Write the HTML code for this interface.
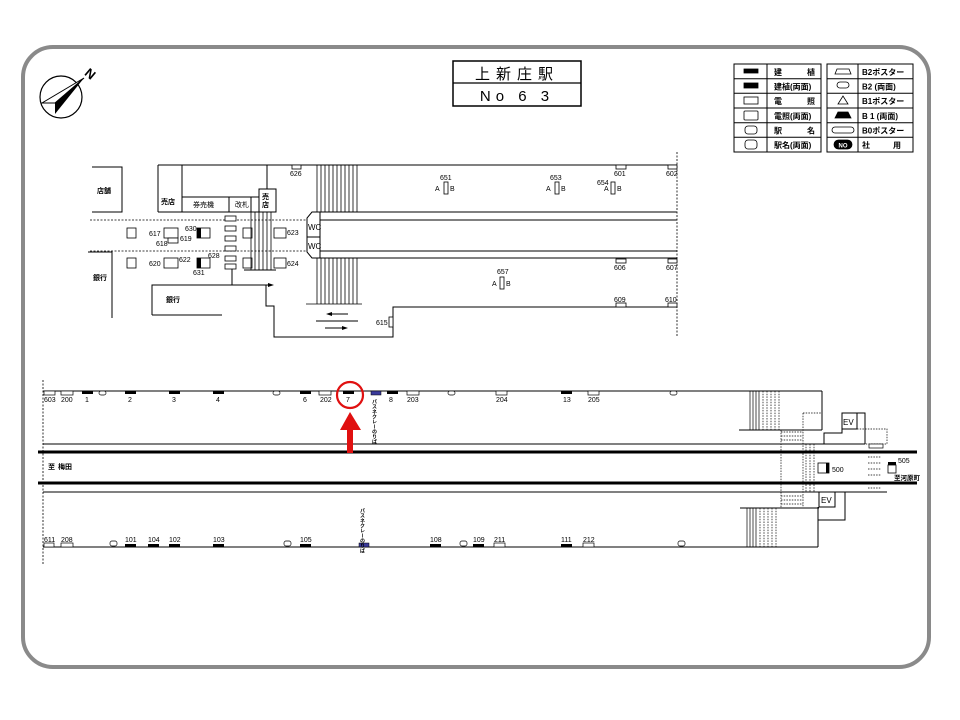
<!DOCTYPE html>
<html><head><meta charset="utf-8"><style>
html,body{margin:0;padding:0;background:#fff;}
svg{display:block;}
text{font-family:"Liberation Sans","Noto Sans CJK JP",sans-serif;fill:#000;}
</style></head><body>
<svg width="960" height="720" viewBox="0 0 960 720" xmlns="http://www.w3.org/2000/svg">
<rect x="0" y="0" width="960" height="720" fill="#fff"/>
<rect x="23" y="47" width="906" height="620" rx="30" ry="30" fill="none" stroke="#8a8a8a" stroke-width="4"/>

<!-- compass -->
<circle cx="61" cy="97" r="21" fill="none" stroke="#000" stroke-width="1.2"/>
<polygon points="84,78 42,103 55,103" fill="#fff" stroke="#000" stroke-width="1"/>
<polygon points="84,78 55,103 55,114" fill="#000"/>
<text x="86" y="78" font-size="13" font-weight="bold" transform="rotate(40 90 73)">N</text>

<!-- title -->
<rect x="453" y="61" width="128" height="45" fill="#fff" stroke="#000" stroke-width="1.5"/>
<line x1="453" y1="83" x2="581" y2="83" stroke="#000" stroke-width="1.2"/>
<text x="517" y="79" font-size="15" text-anchor="middle" letter-spacing="6">上新庄駅</text>
<text x="517" y="101" font-size="15" text-anchor="middle" letter-spacing="5">No 6 3</text>

<!-- legend -->
<g stroke="#000" fill="none" stroke-width="1">
<rect x="734" y="64" width="87" height="88"/>
<line x1="767" y1="64" x2="767" y2="152"/>
<rect x="827" y="64" width="86" height="88"/>
<line x1="858" y1="64" x2="858" y2="152"/>
<line x1="734" y1="78.7" x2="821" y2="78.7"/><line x1="734" y1="93.3" x2="821" y2="93.3"/><line x1="734" y1="108" x2="821" y2="108"/><line x1="734" y1="122.7" x2="821" y2="122.7"/><line x1="734" y1="137.3" x2="821" y2="137.3"/>
<line x1="827" y1="78.7" x2="913" y2="78.7"/><line x1="827" y1="93.3" x2="913" y2="93.3"/><line x1="827" y1="108" x2="913" y2="108"/><line x1="827" y1="122.7" x2="913" y2="122.7"/><line x1="827" y1="137.3" x2="913" y2="137.3"/>
</g>
<g stroke="#000" stroke-width="0.8">
<rect x="744" y="69" width="14" height="4" fill="#000"/>
<rect x="744" y="83" width="14" height="5" fill="#000"/>
<rect x="744" y="97" width="14" height="7" fill="#fff"/>
<rect x="744" y="111" width="14" height="9" fill="#fff" rx="1"/>
<rect x="745" y="126" width="12" height="8" fill="#fff" rx="3"/>
<rect x="745" y="140" width="12" height="9" fill="#fff" rx="3"/>
<path d="M835,74 L837,69 L849,69 L851,74 Z" fill="#fff"/>
<rect x="837" y="82" width="12" height="6" rx="3" fill="#fff"/>
<polygon points="843,96 838,104 848,104" fill="#fff"/>
<path d="M835,118 L838,112 L848,112 L851,118 Z" fill="#000"/>
<rect x="832" y="127" width="22" height="6" rx="3" fill="#fff"/>
<rect x="834" y="140" width="18" height="9" rx="4.5" fill="#000"/>
</g>
<text x="843" y="147.5" font-size="6" text-anchor="middle" style="fill:#fff" font-weight="bold">NO</text>
<g font-size="8" font-weight="bold">
<text x="774" y="75">建</text><text x="807" y="75">植</text>
<text x="774" y="89.5">建植(両面)</text>
<text x="774" y="104">電</text><text x="807" y="104">照</text>
<text x="774" y="119">電照(両面)</text>
<text x="774" y="133.5">駅</text><text x="807" y="133.5">名</text>
<text x="774" y="148">駅名(両面)</text>
<text x="862" y="75">B2ポスター</text>
<text x="862" y="89.5">B2 (両面)</text>
<text x="862" y="104">B1ポスター</text>
<text x="862" y="119">B 1 (両面)</text>
<text x="862" y="133.5">B0ポスター</text>
<text x="862" y="148">社</text><text x="893" y="148">用</text>
</g>

<!-- upper plan -->
<g stroke="#000" stroke-width="1" fill="none">
<polyline points="92,167 122,167 122,212 92,212"/>
<line x1="158" y1="165" x2="677" y2="165"/>
<line x1="158" y1="165" x2="158" y2="212"/>
<line x1="158" y1="212" x2="259" y2="212"/>
<line x1="182" y1="165" x2="182" y2="212"/>
<line x1="182" y1="197" x2="259" y2="197"/>
<line x1="229" y1="197" x2="229" y2="212"/>
<line x1="251" y1="197" x2="251" y2="212"/>
<line x1="267" y1="165" x2="267" y2="189"/>
<rect x="259" y="189" width="17" height="23"/>
<polyline points="88,252 112,252 112,318"/>
<polyline points="152,315 152,285 266,285 266,306 274,306 274,337 393,337 393,307 677,307"/>
<line x1="152" y1="315" x2="222" y2="315"/>
<line x1="232" y1="268" x2="232" y2="285"/>
<line x1="244" y1="270" x2="276" y2="270"/>
</g>
<g stroke="#000" stroke-width="0.8" stroke-dasharray="2,1.5">
<line x1="90" y1="220" x2="307" y2="220"/>
<line x1="90" y1="251" x2="307" y2="251"/>
<line x1="677" y1="152" x2="677" y2="336"/>
</g>
<!-- stacked rects -->
<g stroke="#000" stroke-width="0.8" fill="#fff">
<rect x="225" y="216" width="11" height="5"/><rect x="225" y="226" width="11" height="5"/><rect x="225" y="236" width="11" height="5"/><rect x="225" y="246" width="11" height="5"/><rect x="225" y="256" width="11" height="5"/><rect x="225" y="264" width="11" height="5"/>
<rect x="127" y="228" width="9" height="10"/><rect x="127" y="258" width="9" height="10"/>
<rect x="164" y="228" width="14" height="10"/><rect x="168" y="238" width="10" height="5"/>
<rect x="164" y="258" width="14" height="10"/>
<rect x="197" y="228" width="13" height="10"/><rect x="197" y="258" width="13" height="10"/>
<rect x="243" y="228" width="9" height="10"/><rect x="243" y="258" width="9" height="10"/>
<rect x="274" y="228" width="12" height="10"/><rect x="274" y="258" width="12" height="10"/>
<rect x="292" y="165" width="9" height="4"/>
<rect x="616" y="165" width="10" height="4"/><rect x="668" y="165" width="9" height="4"/>
<rect x="616" y="259" width="10" height="4"/><rect x="668" y="259" width="9" height="4"/>
<rect x="616" y="303" width="10" height="4"/><rect x="668" y="303" width="9" height="4"/>
<rect x="444" y="182" width="4" height="12"/><rect x="555" y="182" width="4" height="12"/><rect x="611" y="182" width="4" height="12"/><rect x="500" y="277" width="4" height="12"/>
<rect x="389" y="317" width="4" height="10"/>
</g>
<rect x="197" y="228" width="4" height="10" fill="#000"/><rect x="197" y="258" width="4" height="10" fill="#000"/>
<!-- small stairs -->
<g stroke="#000" stroke-width="0.8">
<line x1="251" y1="212" x2="251" y2="270"/><line x1="255" y1="212" x2="255" y2="270"/><line x1="259" y1="212" x2="259" y2="270"/><line x1="263" y1="212" x2="263" y2="270"/><line x1="267" y1="212" x2="267" y2="270"/><line x1="271" y1="212" x2="271" y2="270"/>
</g>
<!-- main stairs -->
<g stroke="#000" stroke-width="0.8">
<line x1="317" y1="165" x2="317" y2="212"/><line x1="321" y1="165" x2="321" y2="212"/><line x1="325" y1="165" x2="325" y2="212"/><line x1="329" y1="165" x2="329" y2="212"/><line x1="333" y1="165" x2="333" y2="212"/><line x1="337" y1="165" x2="337" y2="212"/><line x1="341" y1="165" x2="341" y2="212"/><line x1="345" y1="165" x2="345" y2="212"/><line x1="349" y1="165" x2="349" y2="212"/><line x1="353" y1="165" x2="353" y2="212"/><line x1="357" y1="165" x2="357" y2="212"/>
<line x1="317" y1="258" x2="317" y2="304"/><line x1="321" y1="258" x2="321" y2="304"/><line x1="325" y1="258" x2="325" y2="304"/><line x1="329" y1="258" x2="329" y2="304"/><line x1="333" y1="258" x2="333" y2="304"/><line x1="337" y1="258" x2="337" y2="304"/><line x1="341" y1="258" x2="341" y2="304"/><line x1="345" y1="258" x2="345" y2="304"/><line x1="349" y1="258" x2="349" y2="304"/><line x1="353" y1="258" x2="353" y2="304"/><line x1="357" y1="258" x2="357" y2="304"/>
<line x1="306" y1="304" x2="362" y2="304"/>
</g>
<g stroke="#000" stroke-width="1" fill="none">
<polyline points="320,212 312,212 307,218 307,252 312,258 320,258"/>
<line x1="307" y1="237" x2="320" y2="237"/>
<line x1="320" y1="212" x2="677" y2="212"/>
<line x1="320" y1="220" x2="677" y2="220"/>
<line x1="320" y1="251" x2="677" y2="251"/>
<line x1="320" y1="258" x2="677" y2="258"/>
<line x1="320" y1="212" x2="320" y2="258"/>
<line x1="316" y1="321" x2="358" y2="321"/>
<line x1="330" y1="314" x2="348" y2="314"/>
<line x1="325" y1="328" x2="343" y2="328"/>
<line x1="253" y1="285" x2="268" y2="285"/>
</g>
<polygon points="326,314 332,312 332,316" fill="#000"/>
<polygon points="348,328 342,326 342,330" fill="#000"/>
<polygon points="274,285 268,283 268,287" fill="#000"/>

<g font-size="7">
<text x="97" y="193" font-weight="bold">店舗</text>
<text x="161" y="204" font-weight="bold">売店</text>
<text x="193" y="207">券売機</text>
<text x="235" y="207">改札</text>
<text x="262" y="199" font-weight="bold">売</text><text x="262" y="207" font-weight="bold">店</text>
<text x="93" y="280" font-weight="bold">銀行</text>
<text x="166" y="302" font-weight="bold">銀行</text>
<text x="308" y="230" font-size="8">WC</text><text x="308" y="249" font-size="8">WC</text>
<text x="290" y="176">626</text>
<text x="149" y="236">617</text><text x="156" y="246">618</text><text x="180" y="241">619</text>
<text x="185" y="231">630</text><text x="208" y="258">628</text>
<text x="149" y="266">620</text><text x="179" y="262">622</text><text x="193" y="275">631</text>
<text x="287" y="235">623</text><text x="287" y="266">624</text>
<text x="440" y="180">651</text><text x="435" y="191">A</text><text x="450" y="191">B</text>
<text x="550" y="180">653</text><text x="546" y="191">A</text><text x="561" y="191">B</text>
<text x="597" y="185">654</text><text x="604" y="191">A</text><text x="617" y="191">B</text>
<text x="614" y="176">601</text><text x="666" y="176">602</text>
<text x="614" y="270">606</text><text x="666" y="270">607</text>
<text x="497" y="274">657</text><text x="492" y="286">A</text><text x="506" y="286">B</text>
<text x="614" y="302">609</text><text x="665" y="302">610</text>
<text x="376" y="325">615</text>
</g>

<!-- lower platform -->
<g stroke="#000" fill="none">
<line x1="43" y1="380" x2="43" y2="565" stroke-width="0.8" stroke-dasharray="2,1.5"/>
<line x1="43" y1="391" x2="822" y2="391" stroke-width="1"/>
<line x1="43" y1="444" x2="865" y2="444" stroke-width="1"/>
<line x1="38" y1="452" x2="917" y2="452" stroke-width="3"/>
<line x1="38" y1="483" x2="917" y2="483" stroke-width="3"/>
<line x1="43" y1="492" x2="887" y2="492" stroke-width="1"/>
<line x1="43" y1="547" x2="818" y2="547" stroke-width="1"/>
<line x1="822" y1="391" x2="822" y2="430" stroke-width="1"/>
<line x1="739" y1="430" x2="822" y2="430" stroke-width="1"/>
<line x1="740" y1="508" x2="819" y2="508" stroke-width="1"/>
<line x1="818" y1="507" x2="818" y2="547" stroke-width="1"/>
<rect x="842" y="413" width="15" height="16" stroke-width="1"/>
<polyline points="857,413 865,413 865,444" stroke-width="1"/>
<polyline points="842,429 842,433 824,433 824,444" stroke-width="1"/>
<rect x="819" y="492" width="16" height="15" stroke-width="1"/>
<polyline points="845,492 845,520 818,520" stroke-width="1"/>
<rect x="888" y="465" width="8" height="8" stroke-width="0.8"/>
<rect x="818" y="463" width="11" height="10" stroke-width="0.8" fill="#fff"/>
</g>
<rect x="888" y="462" width="8" height="3" fill="#000"/>
<rect x="826" y="463" width="3" height="10" fill="#000"/>
<g stroke="#000" stroke-width="0.7">
<line x1="750" y1="391" x2="750" y2="430"/><line x1="753" y1="391" x2="753" y2="430"/><line x1="756" y1="391" x2="756" y2="430"/><line x1="759" y1="391" x2="759" y2="430"/>
<line x1="747" y1="508" x2="747" y2="547"/><line x1="750" y1="508" x2="750" y2="547"/><line x1="753" y1="508" x2="753" y2="547"/><line x1="756" y1="508" x2="756" y2="547"/>
</g>
<g stroke="#000" stroke-width="0.7" stroke-dasharray="1.5,1.2" fill="none">
<line x1="763" y1="391" x2="763" y2="430"/><line x1="767" y1="391" x2="767" y2="430"/><line x1="771" y1="391" x2="771" y2="430"/><line x1="775" y1="391" x2="775" y2="430"/><line x1="779" y1="391" x2="779" y2="430"/>
<line x1="760" y1="508" x2="760" y2="547"/><line x1="764" y1="508" x2="764" y2="547"/><line x1="768" y1="508" x2="768" y2="547"/><line x1="772" y1="508" x2="772" y2="547"/><line x1="776" y1="508" x2="776" y2="547"/>
<line x1="781" y1="430" x2="781" y2="508"/>
<line x1="803" y1="413" x2="803" y2="508"/>
<line x1="781" y1="432" x2="803" y2="432"/><line x1="781" y1="436" x2="803" y2="436"/><line x1="781" y1="440" x2="803" y2="440"/>
<line x1="781" y1="496" x2="803" y2="496"/><line x1="781" y1="500" x2="803" y2="500"/><line x1="781" y1="504" x2="803" y2="504"/>
<line x1="803" y1="413" x2="822" y2="413"/>
<line x1="806" y1="444" x2="806" y2="492"/><line x1="810" y1="444" x2="810" y2="492"/><line x1="814" y1="444" x2="814" y2="492"/>
<polyline points="857,429 887,429 887,444 865,444"/>
<line x1="868" y1="457" x2="881" y2="457"/><line x1="868" y1="463" x2="881" y2="463"/><line x1="868" y1="469" x2="881" y2="469"/><line x1="868" y1="475" x2="881" y2="475"/><line x1="868" y1="488" x2="881" y2="488"/><line x1="868" y1="492" x2="881" y2="492"/>
</g>
<rect x="869" y="444" width="14" height="4" fill="#fff" stroke="#000" stroke-width="0.7"/>

<!-- top markers -->
<g stroke="#000" stroke-width="0.7" fill="#fff">
<rect x="44" y="391" width="11" height="4"/><rect x="61" y="391" width="12" height="4"/><rect x="319" y="391" width="12" height="4"/><rect x="407" y="391" width="12" height="4"/>
<rect x="496" y="391" width="11" height="4"/><rect x="588" y="391" width="11" height="4"/>
<rect x="99" y="391" width="7" height="4" rx="2"/><rect x="273" y="391" width="7" height="4" rx="2"/><rect x="448" y="391" width="7" height="4" rx="2"/><rect x="670" y="391" width="7" height="4" rx="2"/>
<rect x="44" y="543" width="10" height="4"/><rect x="61" y="543" width="12" height="4"/><rect x="494" y="543" width="11" height="4"/><rect x="583" y="543" width="11" height="4"/>
<rect x="110" y="541" width="7" height="5" rx="2"/><rect x="284" y="541" width="7" height="5" rx="2"/><rect x="460" y="541" width="7" height="5" rx="2"/><rect x="678" y="541" width="7" height="5" rx="2"/>
</g>
<g fill="#000">
<rect x="82" y="391" width="11" height="3"/><rect x="125" y="391" width="11" height="3"/><rect x="169" y="391" width="11" height="3"/><rect x="213" y="391" width="11" height="3"/><rect x="300" y="391" width="11" height="3"/><rect x="343" y="391" width="11" height="3"/><rect x="387" y="391" width="11" height="3"/><rect x="561" y="391" width="11" height="3"/>
<rect x="125" y="544" width="11" height="3"/><rect x="148" y="544" width="11" height="3"/><rect x="169" y="544" width="11" height="3"/><rect x="213" y="544" width="11" height="3"/><rect x="300" y="544" width="11" height="3"/><rect x="430" y="544" width="11" height="3"/><rect x="473" y="544" width="11" height="3"/><rect x="561" y="544" width="11" height="3"/>
</g>
<rect x="371" y="391" width="10" height="4" fill="#3a3a9a" stroke="#000" stroke-width="0.5"/>
<rect x="359" y="543" width="10" height="4" fill="#3a3a9a" stroke="#000" stroke-width="0.5"/>

<g font-size="7">
<text x="44" y="402">603</text><text x="61" y="402">200</text><text x="85" y="402">1</text><text x="128" y="402">2</text><text x="172" y="402">3</text><text x="216" y="402">4</text><text x="303" y="402">6</text><text x="320" y="402">202</text><text x="346" y="402">7</text><text x="389" y="402">8</text><text x="407" y="402">203</text><text x="496" y="402">204</text><text x="563" y="402">13</text><text x="588" y="402">205</text>
<text x="44" y="542">611</text><text x="61" y="542">208</text><text x="125" y="542">101</text><text x="148" y="542">104</text><text x="169" y="542">102</text><text x="213" y="542">103</text><text x="300" y="542">105</text><text x="430" y="542">108</text><text x="473" y="542">109</text><text x="494" y="542">211</text><text x="561" y="542">111</text><text x="583" y="542">212</text>
<text x="48" y="469" font-weight="bold">至</text><text x="58" y="469" font-weight="bold">梅田</text>
<text x="832" y="472">500</text><text x="898" y="463">505</text>
<text x="894" y="480" font-size="6.5" font-weight="bold">至河原町</text>
<text x="843" y="425" font-size="8">EV</text><text x="821" y="503" font-size="8">EV</text>
</g>
<text x="374" y="399" font-size="5" writing-mode="tb" font-weight="bold">パスネクレーのりば</text>
<text x="362" y="508" font-size="5" writing-mode="tb" font-weight="bold">パスネクレーのりば</text>

<!-- red highlight -->
<circle cx="350" cy="395" r="13" fill="none" stroke="#e01010" stroke-width="2.2"/>
<polygon points="350,412 340,430 347,430 347,453 353,453 353,430 361,430" fill="#e01010"/>
</svg>
</body></html>
